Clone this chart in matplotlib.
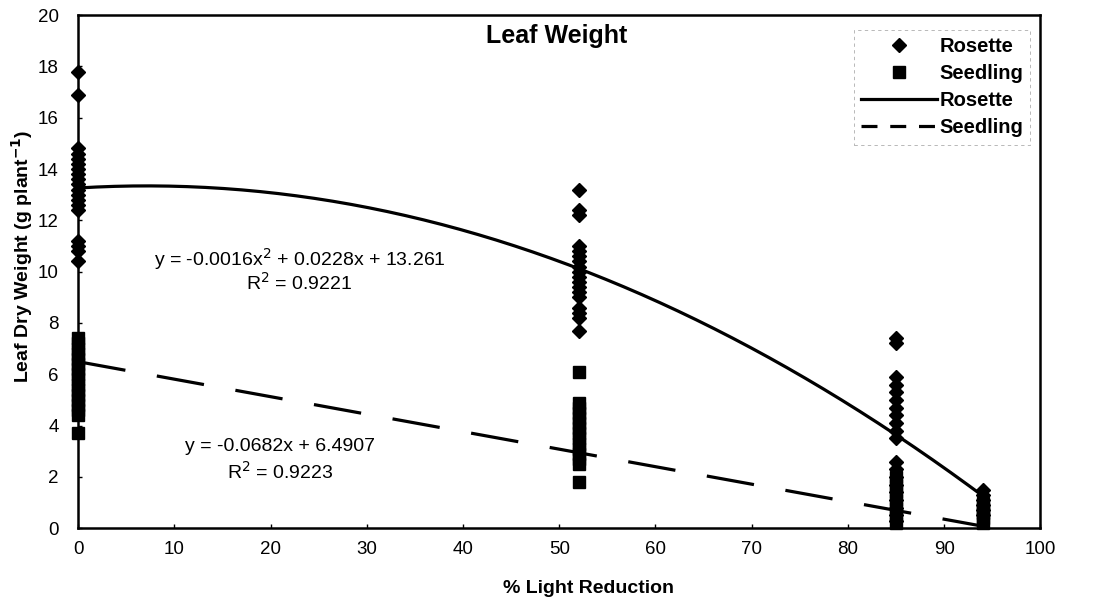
import matplotlib
matplotlib.use("Agg")
import matplotlib.pyplot as plt
from matplotlib.lines import Line2D
import numpy as np

plt.rcParams['font.family'] = ['Liberation Sans', 'DejaVu Sans']

# light reduction levels (%)
levels = [0, 52, 85, 94]

# leaf dry weight readings (g plant^-1) per level
rosette_0 = [17.8, 16.9, 14.8, 14.6, 14.4, 14.2, 14.0, 13.8, 13.6, 13.4, 13.2,
             13.0, 12.8, 12.6, 12.4, 11.2, 11.0, 10.8, 10.4]
rosette_52 = [13.2, 12.4, 12.2, 11.0, 10.8, 10.6, 10.4, 10.2, 10.0, 9.8, 9.6,
              9.4, 9.2, 9.0, 8.6, 8.4, 8.2, 7.7]
rosette_85 = [7.4, 7.2, 5.9, 5.6, 5.3, 5.0, 4.7, 4.4, 4.1, 3.8, 3.5, 2.6, 2.3,
              2.0, 1.7, 1.4, 1.1, 0.8, 0.5, 0.3]
rosette_94 = [1.5, 1.3, 1.1, 0.9, 0.7, 0.5]

seedling_0 = [7.4, 7.2, 7.0, 6.8, 6.6, 6.4, 6.2, 6.0, 5.8, 5.6, 5.4, 5.2, 5.0,
              4.8, 4.6, 4.4, 3.7]
seedling_52 = [6.1, 4.9, 4.7, 4.5, 4.3, 4.1, 3.9, 3.7, 3.5, 3.3, 3.1, 2.9, 2.7,
               2.5, 1.8]
seedling_85 = [2.0, 1.7, 1.4, 1.1, 0.8, 0.5, 0.2]
seedling_94 = [1.0, 0.8, 0.6, 0.4, 0.2]

# fitted trend lines from the figure
rosette_coef = [-0.0016, 0.0228, 13.261]
seedling_coef = [-0.0682, 6.4907]

rosette = [rosette_0, rosette_52, rosette_85, rosette_94]
seedling = [seedling_0, seedling_52, seedling_85, seedling_94]

fig = plt.figure(figsize=(11.02, 6.03), dpi=100)
ax = fig.add_axes([0.071, 0.124, 0.873, 0.851])

for lv, vals in zip(levels, rosette):
    ax.plot([lv] * len(vals), vals, 'D', color='black', markersize=7.5,
            linestyle='none', clip_on=False, zorder=3)
for lv, vals in zip(levels, seedling):
    ax.plot([lv] * len(vals), vals, 's', color='black', markersize=8.5,
            linestyle='none', clip_on=False, zorder=3)

xs = np.linspace(0, 94, 200)
ax.plot(xs, np.polyval(rosette_coef, xs), color='black', lw=2.3, zorder=2)
xl = np.linspace(0, 94, 50)
ax.plot(xl, np.polyval(seedling_coef, xl), color='black', lw=2.3,
        dashes=(15, 10), zorder=2)

ax.set_xlim(0, 100)
ax.set_ylim(0, 20)
ax.set_xticks(range(0, 101, 10))
ax.set_yticks(range(0, 21, 2))
ax.tick_params(labelsize=13.5, length=3, width=1, direction='in')
ax.tick_params(axis='x', pad=9)
ax.tick_params(axis='y', pad=14)
for s in ax.spines.values():
    s.set_linewidth(1.8)

ax.set_xlabel('% Light Reduction', fontsize=14, fontweight='bold')
ax.xaxis.set_label_coords(0.53, -0.1)
ax.set_ylabel('Leaf Dry Weight (g plant$^{\\mathbf{-1}}$)', fontsize=14,
              fontweight='bold')
ax.yaxis.set_label_coords(-0.045, 0.53)
ax.text(0.497, 0.96, 'Leaf Weight', transform=ax.transAxes, ha='center',
        va='center', fontsize=18, fontweight='bold')

ax.text(23, 10.5, 'y = -0.0016x$^2$ + 0.0228x + 13.261', ha='center',
        va='center', fontsize=14)
ax.text(23, 9.55, 'R$^2$ = 0.9221', ha='center', va='center', fontsize=14)
ax.text(21, 3.2, 'y = -0.0682x + 6.4907', ha='center', va='center', fontsize=14)
ax.text(21, 2.2, 'R$^2$ = 0.9223', ha='center', va='center', fontsize=14)

handles = [
    Line2D([], [], marker='D', color='black', linestyle='none', markersize=7.5),
    Line2D([], [], marker='s', color='black', linestyle='none', markersize=8),
    Line2D([], [], color='black', lw=2.3),
    Line2D([], [], color='black', lw=2.3, dashes=(5, 4)),
]
leg = ax.legend(handles, ['Rosette', 'Seedling', 'Rosette', 'Seedling'],
                loc='upper right', bbox_to_anchor=(1.0, 0.99),
                prop={'weight': 'bold', 'size': 14.5}, frameon=True,
                fancybox=False, handlelength=3.8, handletextpad=0.1,
                labelspacing=0.4, borderpad=0.35)
leg.get_frame().set_edgecolor('#999999')
leg.get_frame().set_linestyle((0, (4, 4)))
leg.get_frame().set_linewidth(0.6)

fig.savefig('out.png', dpi=100)
